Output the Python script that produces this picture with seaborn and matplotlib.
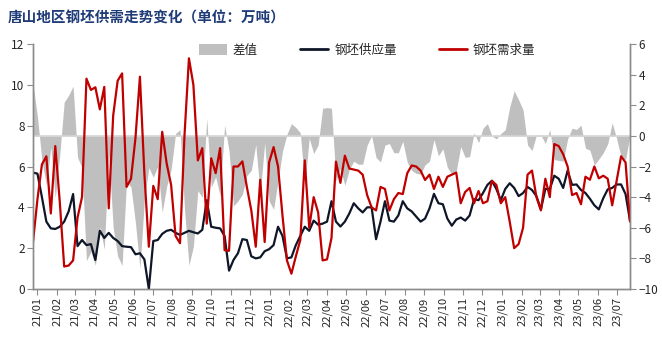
import numpy as np
import pandas as pd
import matplotlib
matplotlib.use('Agg')
import matplotlib.pyplot as plt
import matplotlib.dates as mdates
import seaborn as sns
from matplotlib.patches import Patch
from matplotlib.lines import Line2D

# 周度数据 (万吨)
dates = pd.date_range('2020-12-25', periods=135, freq='7D')

supply = [
    5.7, 5.65, 4.5, 3.3, 2.97, 2.94, 3.05, 3.3, 3.8, 4.65,
    2.1, 2.4, 2.15, 2.2, 1.42, 2.85, 2.5, 2.75, 2.5, 2.35,
    2.1, 2.07, 2.05, 1.7, 1.75, 1.45, 0.0, 2.35, 2.4, 2.7,
    2.85, 2.9, 2.75, 2.65, 2.75, 2.85, 2.78, 2.72, 2.9, 4.35,
    3.05, 3.0, 2.97, 2.6, 0.9, 1.42, 1.75, 2.44, 2.4, 1.6,
    1.5, 1.55, 1.85, 1.95, 2.15, 3.05, 2.6, 1.5, 1.55, 2.15,
    2.6, 3.05, 2.85, 3.35, 3.15, 3.2, 3.3, 4.3, 3.3, 3.06,
    3.3, 3.7, 4.2, 3.95, 3.75, 4.0, 4.0, 2.44, 3.3, 4.3,
    3.35, 3.3, 3.6, 4.3, 3.95, 3.8, 3.55, 3.3, 3.45, 3.95,
    4.66, 4.2, 4.15, 3.45, 3.1, 3.4, 3.5, 3.35, 3.6, 4.4,
    4.35, 4.7, 5.1, 5.3, 4.9, 4.35, 4.9, 5.18, 4.95, 4.55,
    4.7, 5.0, 4.85, 4.55, 3.9, 4.9, 4.9, 5.55, 5.4, 4.95,
    5.8, 5.1, 5.12, 4.85, 4.7, 4.42, 4.1, 3.9, 4.45, 4.88,
    4.95, 5.12, 5.12, 4.65, 3.35,
]

demand = [
    2.3, 4.4, 6.1, 6.5, 3.7, 7.0, 4.3, 1.1, 1.15, 1.4,
    3.5, 4.5, 10.3, 9.75, 9.88, 8.8, 9.9, 3.95, 8.5, 10.2,
    10.56, 5.0, 5.4, 7.4, 10.4, 5.65, 2.07, 5.05, 4.4, 7.7,
    6.15, 5.1, 2.6, 2.24, 7.5, 11.3, 10.0, 6.3, 6.9, 3.2,
    6.4, 5.67, 6.9, 1.9, 1.87, 6.0, 6.0, 6.25, 5.0, 3.85,
    2.07, 5.35, 2.3, 6.2, 6.95, 6.0, 3.6, 1.4, 0.75, 1.6,
    2.4, 6.3, 3.0, 4.5, 3.75, 1.4, 1.45, 2.5, 6.24, 5.2,
    6.53, 5.9, 5.85, 5.8, 5.6, 4.6, 4.0, 3.85, 5.0, 4.9,
    3.85, 4.4, 4.7, 4.65, 5.67, 6.05, 6.0, 5.8, 5.34, 5.6,
    4.9, 5.5, 5.0, 5.5, 5.6, 5.7, 4.2, 4.75, 4.95, 4.2,
    4.8, 4.2, 4.3, 5.3, 5.1, 4.2, 4.5, 3.3, 2.0, 2.2,
    3.0, 5.6, 5.8, 4.5, 3.85, 5.4, 4.5, 7.1, 7.0, 6.6,
    6.0, 4.6, 4.7, 4.15, 5.5, 5.35, 6.0, 5.42, 5.55, 5.4,
    4.1, 5.3, 6.5, 6.2, 3.3,
]

# 差值 = 供应量 - 需求量
diff = np.array(supply) - np.array(demand)

df = pd.DataFrame({'日期': dates, '钢坯供应量': supply, '钢坯需求量': demand, '差值': diff})

sns.set_style('ticks')
plt.rcParams['font.family'] = ['Noto Sans CJK SC', 'DejaVu Sans']
plt.rcParams['axes.unicode_minus'] = True

fig = plt.figure(figsize=(6.62, 3.51), dpi=100)
ax = fig.add_axes([33 / 662, 1 - 289 / 351, 597 / 662, 245 / 351])
ax2 = ax.twinx()

gray = '#BFBFBF'
navy = '#0E1628'
red = '#C00000'
axis_col = '#8C8C8C'

# 差值面积 (右轴)
ax2.fill_between(df['日期'], df['差值'], 0, color=gray, linewidth=0)
ax2.axhline(0, color='#D4D4D4', linewidth=1.2)

sns.lineplot(data=df, x='日期', y='钢坯供应量', ax=ax, color=navy, linewidth=1.6)
sns.lineplot(data=df, x='日期', y='钢坯需求量', ax=ax, color=red, linewidth=1.6)

ax.set_zorder(ax2.get_zorder() + 1)
ax.patch.set_visible(False)

ax.set_ylim(0, 12)
ax.set_yticks(range(0, 13, 2))
ax2.set_ylim(-10, 6)
ax2.set_yticks(range(-10, 7, 2))
ax.set_xlim(dates[0], dates[-1])

ax.xaxis.set_major_locator(mdates.MonthLocator())
ax.xaxis.set_major_formatter(mdates.DateFormatter('%y/%m'))
ax.tick_params(axis='x', rotation=90, labelsize=8, length=4, color=axis_col, pad=2)
ax.tick_params(axis='y', labelsize=8.5, length=4, color=axis_col, pad=2)
ax2.tick_params(axis='y', labelsize=8.5, length=4, color=axis_col, pad=2)

ax.set_xlabel('')
ax.set_ylabel('')
ax2.set_ylabel('')

for a in (ax, ax2):
    a.spines['top'].set_visible(False)
    for s in ('left', 'right', 'bottom'):
        a.spines[s].set_color(axis_col)
        a.spines[s].set_linewidth(1)

handles = [
    Patch(facecolor=gray, edgecolor='none', label='差值'),
    Line2D([], [], color=navy, linewidth=2, label='钢坯供应量'),
    Line2D([], [], color=red, linewidth=2, label='钢坯需求量'),
]
ax.legend(handles=handles, loc='center', bbox_to_anchor=(0.56, 0.975), ncol=3,
          frameon=False, fontsize=9, handlelength=2.2, handleheight=0.9,
          columnspacing=3.4, handletextpad=0.5)

fig.text(8 / 662, 1 - 18 / 351, '唐山地区钢坯供需走势变化（单位：万吨）',
         fontsize=10.5, fontweight='bold', color='#1F3C78', va='center', ha='left')

fig.savefig('out.png', dpi=100)
